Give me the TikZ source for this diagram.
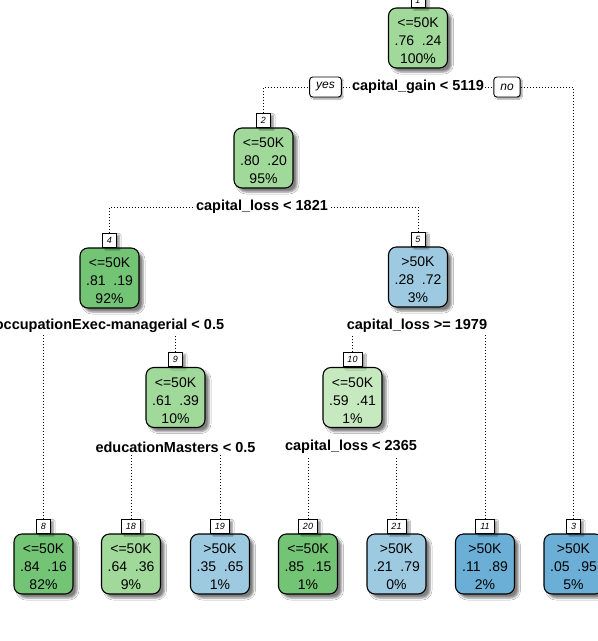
\documentclass[tikz,border=0pt]{standalone}
\usepackage{fontspec}
\setmainfont{Liberation Sans}
\usetikzlibrary{shadows.blur}
\definecolor{gA}{HTML}{A1D99B}
\definecolor{gB}{HTML}{74C476}
\definecolor{gC}{HTML}{C7E9C0}
\definecolor{bA}{HTML}{9ECAE1}
\definecolor{bB}{HTML}{6BAED6}
\newcommand\nodetext[3]{\rule{0pt}{16pt}#1\\#2\\#3}
\tikzset{
  shad/.style={blur shadow={shadow xshift=4pt, shadow yshift=-4pt, shadow blur radius=2pt, shadow opacity=50}},
  tree/.style={draw=black, line width=1.1pt, rounded corners=8pt, minimum width=59pt, minimum height=60pt,
    inner sep=0pt, align=center, font=\fontsize{14}{18}\selectfont, shad},
  nlab/.style={draw=black, line width=0.8pt, fill=white, minimum height=14pt, minimum width=13pt,
    inner xsep=4.5pt, inner ysep=1pt, anchor=south, font=\fontsize{9}{10}\selectfont\itshape,
    blur shadow={shadow xshift=3pt, shadow yshift=-2pt, shadow blur radius=1.5pt, shadow opacity=40}},
  split/.style={fill=white, inner xsep=1.5pt, inner ysep=2pt, font=\bfseries\fontsize{14.5}{16}\selectfont},
  yn/.style={draw=black, line width=0.9pt, rounded corners=3pt, fill=white, minimum height=20pt,
    inner xsep=6.5pt, inner ysep=1pt, font=\itshape\fontsize{12}{14}\selectfont,
    blur shadow={shadow xshift=1.5pt, shadow yshift=-1.5pt, shadow blur radius=1pt, shadow opacity=40}},
  edge/.style={line width=1pt, dash pattern=on 1pt off 2pt},
}
\begin{document}
\begin{tikzpicture}[x=1pt,y=-1pt]
\clip (0,0) rectangle (598,641);
\fill[white] (0,0) rectangle (598,641);
% nodes
\node[tree, fill=gA] (n1) at (418,38) {\nodetext{<=50K}{.76 \ .24}{100\%}};
\node[tree, fill=gA] (n2) at (263.5,158) {\nodetext{<=50K}{.80 \ .20}{95\%}};
\node[tree, fill=gB] (n4) at (109.5,278) {\nodetext{<=50K}{.81 \ .19}{92\%}};
\node[tree, fill=bA] (n5) at (418,277) {\nodetext{>50K}{.28 \ .72}{3\%}};
\node[tree, fill=gA] (n9) at (175.5,397.5) {\nodetext{<=50K}{.61 \ .39}{10\%}};
\node[tree, fill=gC] (n10) at (352.5,397.5) {\nodetext{<=50K}{.59 \ .41}{1\%}};
\node[tree, fill=gB] (n8) at (43.5,564) {\nodetext{<=50K}{.84 \ .16}{82\%}};
\node[tree, fill=gA] (n18) at (131,564) {\nodetext{<=50K}{.64 \ .36}{9\%}};
\node[tree, fill=bA] (n19) at (220,564) {\nodetext{>50K}{.35 \ .65}{1\%}};
\node[tree, fill=gB] (n20) at (308,564) {\nodetext{<=50K}{.85 \ .15}{1\%}};
\node[tree, fill=bA] (n21) at (396.5,564) {\nodetext{>50K}{.21 \ .79}{0\%}};
\node[tree, fill=bB] (n11) at (485,564) {\nodetext{>50K}{.11 \ .89}{2\%}};
\node[tree, fill=bB] (n3) at (573.5,564) {\nodetext{>50K}{.05 \ .95}{5\%}};
% number labels
\node[nlab] (l1) at (n1.north) {1};
\node[nlab] (l2) at (n2.north) {2};
\node[nlab] (l4) at (n4.north) {4};
\node[nlab] (l5) at (n5.north) {5};
\node[nlab] (l9) at (n9.north) {9};
\node[nlab] (l10) at (n10.north) {10};
\node[nlab] (l8) at (n8.north) {8};
\node[nlab] (l18) at (n18.north) {18};
\node[nlab] (l19) at (n19.north) {19};
\node[nlab] (l20) at (n20.north) {20};
\node[nlab] (l21) at (n21.north) {21};
\node[nlab] (l11) at (n11.north) {11};
\node[nlab] (l3) at (n3.north) {3};
% split points
\coordinate (s1) at (418,87);
\coordinate (s2) at (262,207);
\coordinate (s4) at (109.5,326);
\coordinate (s5) at (417,326);
\coordinate (s9) at (175.5,447);
\coordinate (s10) at (351,447);
% connectors
\draw[edge] (l2.north) |- (s1);
\draw[edge] (l3.north) |- (s1);
\draw[edge] (l4.north) |- (s2);
\draw[edge] (l5.north) |- (s2);
\draw[edge] (l8.north) |- (s4);
\draw[edge] (l9.north) |- (s4);
\draw[edge] (l10.north) |- (s5);
\draw[edge] (l11.north) |- (s5);
\draw[edge] (l18.north) |- (s9);
\draw[edge] (l19.north) |- (s9);
\draw[edge] (l20.north) |- (s10);
\draw[edge] (l21.north) |- (s10);
% split labels
\node[split] (t1) at (s1) {capital\_gain < 5119};
\node[split] (t2) at (s2) {capital\_loss < 1821};
\node[split] (t4) at (s4) {occupationExec-managerial < 0.5};
\node[split] (t5) at (s5) {capital\_loss >= 1979};
\node[split] (t9) at (s9) {educationMasters < 0.5};
\node[split] (t10) at (s10) {capital\_loss < 2365};
\node[yn] (yes) at (325.5,87) {yes};
\node[yn] (no) at (507,87) {no};
\end{tikzpicture}
\end{document}
